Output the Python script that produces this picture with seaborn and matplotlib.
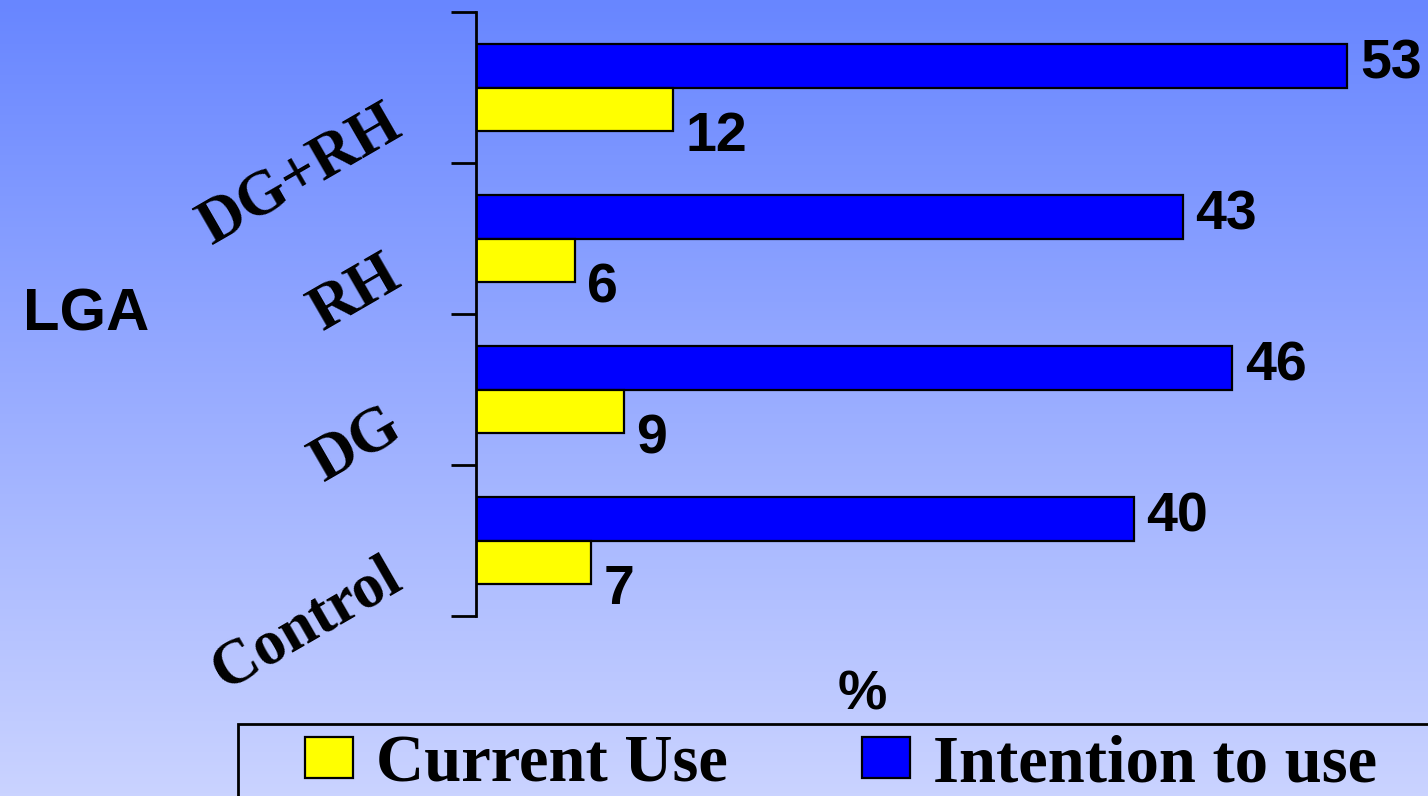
import numpy as np
import pandas as pd
import matplotlib
matplotlib.use("Agg")
import matplotlib.pyplot as plt
import seaborn as sns
from matplotlib.colors import to_rgb
from matplotlib.patches import Patch, Rectangle
from matplotlib.transforms import blended_transform_factory

# data
groups = ['DG+RH', 'RH', 'DG', 'Control']
current_use = [12, 6, 9, 7]
intention = [53, 43, 46, 40]
series = ['Current Use', 'Intention to use']
colors = {'Current Use': '#FFFF00', 'Intention to use': '#0000FF'}

df = pd.DataFrame({
    'LGA': groups * 2,
    'pct': current_use + intention,
    'series': ['Current Use'] * len(groups) + ['Intention to use'] * len(groups),
})

sns.set_style('white')
plt.rcParams['font.family'] = ['Liberation Sans', 'DejaVu Sans']
plt.rcParams['text.color'] = 'black'
serif = ['Liberation Serif', 'DejaVu Serif']

W, H = 1428, 796
fig = plt.figure(figsize=(W / 100, H / 100), dpi=100)

# gradient background (dark blue at top -> pale at bottom)
bg = fig.add_axes([0, 0, 1, 1], zorder=-10)
top = np.array(to_rgb('#6886FF'))
bot = np.array(to_rgb('#CAD3FF'))
t = np.linspace(0, 1, 256)[:, None]
grad = top + (bot - top) * t
bg.imshow(grad[:, None, :], aspect='auto', extent=[0, 1, 0, 1])
bg.axis('off')

ax = fig.add_axes([476 / W, 1 - 616 / H, 1 - 476 / W, (616 - 12) / H])
ax.patch.set_alpha(0)

sns.barplot(data=df, x='pct', y='LGA', hue='series',
            hue_order=['Intention to use', 'Current Use'], order=groups,
            palette=colors, saturation=1, orient='h', width=0.58,
            edgecolor='black', linewidth=1.6, legend=False, ax=ax)

ax.set_xlim(0, 57.9)
ax.set_ylim(len(groups) - 0.5, -0.5)
for s in ['top', 'right', 'bottom']:
    ax.spines[s].set_visible(False)
ax.spines['left'].set_linewidth(2)
ax.spines['left'].set_color('black')
ax.set_xticks([])
ax.set_yticks(np.arange(-0.5, len(groups), 1.0))
ax.set_yticklabels([])
ax.tick_params(axis='y', left=True, length=18, width=2, color='black', direction='out')
ax.set_xlabel('')
ax.set_ylabel('')

# rotated category labels
trans = blended_transform_factory(ax.transAxes, ax.transData)
for i, g in enumerate(groups):
    ax.text(-0.075, i + 0.3, g, transform=trans, rotation=30,
            rotation_mode='anchor', ha='right', va='baseline',
            fontsize=45, fontweight='bold', family=serif, color='black')

# value labels
for cont in ax.containers:
    for bar in cont:
        w = bar.get_width()
        y = bar.get_y() + bar.get_height() / 2
        fc = bar.get_facecolor()
        is_blue = fc[2] > 0.5 and fc[0] < 0.5
        off = (9, 1) if is_blue else (9, -20)
        ax.annotate(f'{w:.0f}', (w, y), xytext=off, textcoords='offset points',
                    ha='left', va='center', fontsize=40, fontweight='bold',
                    color='black')

fig.text(862 / W, 1 - 695 / H, '%', ha='center', va='center',
         fontsize=40, fontweight='bold', color='black')
fig.text(86 / W, 1 - 315 / H, 'LGA', ha='center', va='center',
         fontsize=43, fontweight='bold', color='black')

# legend box running off the bottom/right edge
fig.add_artist(Rectangle((238 / W, -0.05), 1.0, 0.05 + 1 - 724 / H,
                         transform=fig.transFigure, fill=False,
                         edgecolor='black', linewidth=2))
handles = [Patch(facecolor=colors[s], edgecolor='black', linewidth=1.6, label=s)
           for s in series]
fig.legend(handles=handles, loc='upper left',
           bbox_to_anchor=(305 / W, 1 - 734 / H), ncol=2, frameon=False,
           prop={'family': serif, 'weight': 'bold', 'size': 48},
           labelcolor='black',
           handlelength=0.72, handleheight=0.58, handletextpad=0.35,
           columnspacing=2.0, borderpad=0, borderaxespad=0)

fig.savefig('out.png', dpi=100)
